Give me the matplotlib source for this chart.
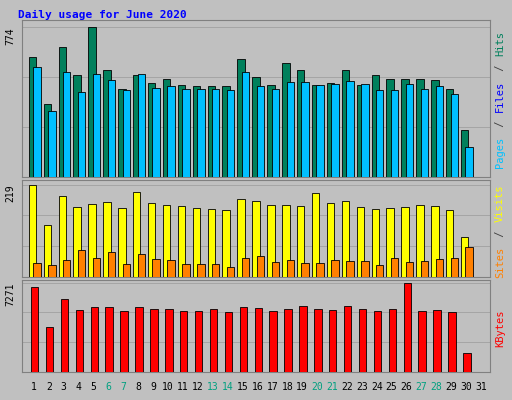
import matplotlib
matplotlib.use("Agg")
import matplotlib.pyplot as plt
import numpy as np

days = list(range(1, 32))
weekends = [6, 7, 13, 14, 20, 21, 27, 28]
hits = [621, 379, 674, 526, 774, 553, 458, 526, 484, 506, 474, 469, 469, 469, 611, 516, 474, 590, 553, 474, 484, 553, 474, 527, 506, 506, 506, 500, 458, 242, 0]
files = [569, 342, 542, 442, 532, 500, 448, 532, 463, 469, 458, 453, 453, 448, 542, 469, 458, 490, 490, 474, 479, 495, 479, 448, 448, 479, 453, 469, 432, 153, 0]
visits = [219, 124, 193, 167, 174, 178, 164, 202, 176, 171, 169, 164, 162, 159, 186, 181, 171, 171, 169, 198, 176, 181, 167, 162, 164, 167, 171, 169, 159, 95, 0]
sites = [33, 29, 40, 64, 45, 59, 31, 55, 43, 40, 31, 31, 31, 24, 45, 50, 36, 40, 33, 33, 40, 38, 38, 29, 45, 36, 38, 43, 45, 71, 0]
kbytes = [6929, 3678, 5902, 5047, 5304, 5304, 4962, 5304, 5133, 5133, 4962, 4962, 5133, 4876, 5304, 5218, 4962, 5133, 5389, 5133, 5047, 5389, 5133, 4962, 5133, 7271, 4962, 5047, 4876, 1539, 0]

BG = "#C0C0C0"
fig = plt.figure(figsize=(5.12, 4.0), dpi=100, facecolor=BG)
W, H = 512, 400
def ax_at(x0, y0, x1, y1):
    ax = fig.add_axes([x0 / W, 1 - y1 / H, (x1 - x0) / W, (y1 - y0) / H])
    ax.set_facecolor(BG)
    for s in ax.spines.values():
        s.set_color("#808080")
    ax.set_xlim(0.2, 31.6)
    ax.set_xticks([])
    ax.yaxis.set_ticks_position("none")
    ax.tick_params(axis="y", pad=1)
    return ax

fig.text(18 / W, 1 - 15 / H, "Daily usage for June 2020", color="#0000FF",
         fontsize=8, fontweight="bold", family="DejaVu Sans Mono", va="center")

x = np.array(days)
bw = 0.5
def bars(ax, vals, off, color):
    ax.bar(x + off, vals, width=bw, color=color, edgecolor="black", linewidth=0.6, zorder=3)

def grid(ax, top, n=3):
    for v in np.linspace(0, top, n + 1)[1:]:
        ax.axhline(v, color="#a0a0a0", linewidth=0.6, zorder=1)

a1 = ax_at(22, 20, 490, 177)
a1.set_ylim(0, 774 * 1.05)
grid(a1, 774 * 1.0)
bars(a1, hits, -0.1, "#00805C")
bars(a1, files, 0.2, "#00C0FF")
a1.set_yticks([774]); a1.set_yticklabels(["774"], rotation=90, va="top", fontsize=7, family="DejaVu Sans Mono")

a2 = ax_at(22, 180, 490, 277)
a2.set_ylim(0, 219 * 1.05)
grid(a2, 219)
bars(a2, visits, -0.1, "#FFFF00")
bars(a2, sites, 0.2, "#FF8000")
a2.set_yticks([219]); a2.set_yticklabels(["219"], rotation=90, va="top", fontsize=7, family="DejaVu Sans Mono")

a3 = ax_at(22, 280, 490, 372)
a3.set_ylim(0, 7271 * 1.03)
grid(a3, 7271)
bars(a3, kbytes, 0.05, "#FF0000")
a3.set_yticks([7271]); a3.set_yticklabels(["7271"], rotation=90, va="top", fontsize=7, family="DejaVu Sans Mono")
a3.set_xticks(days)
a3.set_xticklabels([str(d) for d in days], fontsize=7, family="DejaVu Sans Mono")
a3.xaxis.set_ticks_position("none")
for lab, d in zip(a3.get_xticklabels(), days):
    if d in weekends:
        lab.set_color("#00A080")

def side(ycenter, parts):
    total = sum(len(t) for t, _ in parts)
    ch = 7.0
    y = ycenter + total * ch / 2
    for t, c in parts:
        fig.text(500 / W, 1 - y / H, t, color=c, rotation=90, fontsize=7.5,
                 family="DejaVu Sans Mono", va="bottom", ha="center")
        y -= len(t) * ch

side(98, [("Pages", "#00C0FF"), (" / ", "#404040"), ("Files", "#0000FF"), (" / ", "#404040"), ("Hits", "#00805C")])
side(229, [("Sites", "#FF8000"), (" / ", "#404040"), ("Visits", "#FFFF00")])
side(326, [("KBytes", "#FF0000")])

fig.savefig("out.png", dpi=100, facecolor=BG)
